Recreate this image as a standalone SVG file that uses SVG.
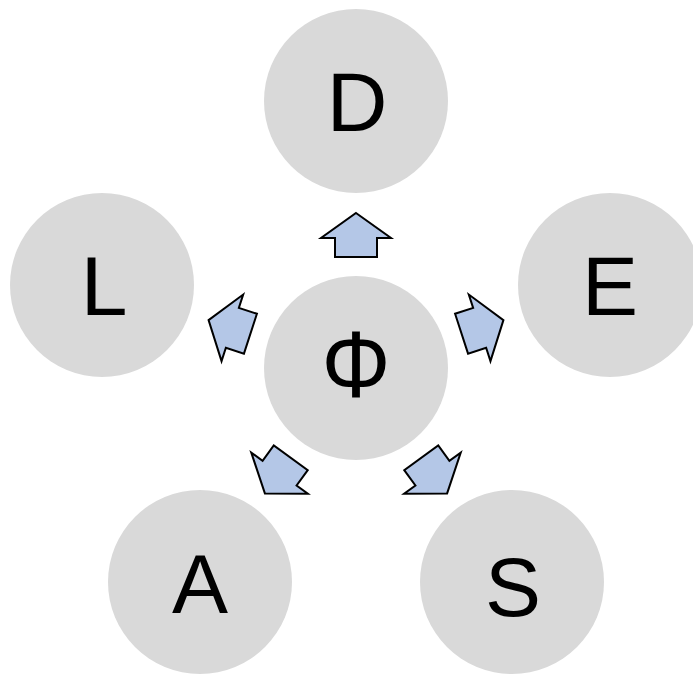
<svg xmlns="http://www.w3.org/2000/svg" width="693" height="675" viewBox="0 0 693 675">
<style>
.node circle{fill:#d9d9d9}
.node text{font-family:"Liberation Sans",Arial,sans-serif;font-size:84px;fill:#000;text-anchor:middle}
.arr{fill:#b4c7e7;stroke:#000;stroke-width:2;stroke-linejoin:miter}
</style>
<defs>
<path id="arrow" class="arr" d="M356,213 L391,238 L377,238 L377,257 L335,257 L335,238 L321,238 Z"/>
</defs>
<rect width="693" height="675" fill="#fff"/>
<g id="node-D" class="node"><circle cx="356" cy="101" r="92"/><text x="357" y="131">D</text></g>
<g id="node-L" class="node"><circle cx="102" cy="285" r="92"/><text x="104" y="315">L</text></g>
<g id="node-E" class="node"><circle cx="610" cy="285" r="92"/><text x="610" y="315">E</text></g>
<g id="node-A" class="node"><circle cx="200" cy="582" r="92"/><text x="200" y="613">A</text></g>
<g id="node-S" class="node"><circle cx="512" cy="582" r="92"/><text x="513" y="616">S</text></g>
<g id="node-Phi" class="node"><circle cx="356" cy="368" r="92"/><text transform="translate(356,397) scale(0.92,1)" x="0" y="0" style="font-size:94px">Φ</text></g>
<g id="connectors">
<use href="#arrow"/>
<use href="#arrow" transform="rotate(-72 356 368)"/>
<use href="#arrow" transform="rotate(72 356 368)"/>
<use href="#arrow" transform="rotate(-144 356 368)"/>
<use href="#arrow" transform="rotate(144 356 368)"/>
</g>
</svg>
